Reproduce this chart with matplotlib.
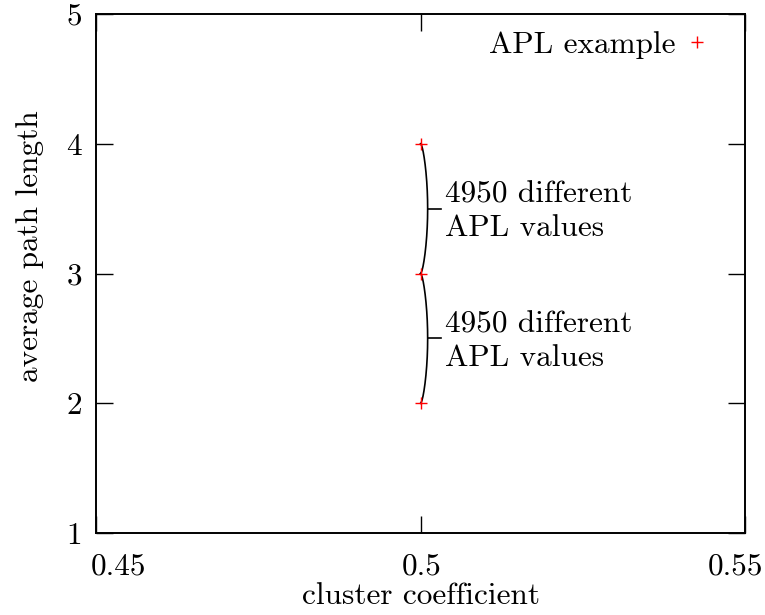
import numpy as np
import matplotlib
matplotlib.use("Agg")
import matplotlib.pyplot as plt
from matplotlib.transforms import ScaledTranslation

plt.rcParams["font.family"] = ["cmr10", "DejaVu Serif"]
plt.rcParams["axes.formatter.use_mathtext"] = True
plt.rcParams["mathtext.fontset"] = "cm"

# Data
cluster_coeff = [0.5, 0.5, 0.5]
apl = [2, 3, 4]
brace_ranges = [(3, 4), (2, 3)]
brace_text = "4950 different\nAPL values"
x_ticks = [0.45, 0.5, 0.55]
x_ticklabels = ["0.45", "0.5", "0.55"]
y_ticks = [1, 2, 3, 4, 5]

FS = 22.5

fig = plt.figure(figsize=(7.65, 6.15), dpi=100)
ax = fig.add_axes([0.1255, 0.1333, 0.8484, 0.8439])

ax.plot(cluster_coeff, apl, linestyle="none", marker="+", color="red",
        markersize=9, markeredgewidth=1.0, label="APL example", zorder=3)

# Curly braces spanning each group of values
for y0, y1 in brace_ranges:
    t = np.linspace(0, 1, 200)
    y = y1 - (y1 - y0) * t
    xoff = 0.0011 * np.sin(np.pi * t) ** 0.6
    ax.plot(0.5 + xoff, y, color="black", lw=1.2, zorder=2)
    ym = (y0 + y1) / 2
    ax.plot([0.5 + 0.0011, 0.5 + 0.0031], [ym, ym], color="black", lw=1.2)
    ax.text(0.5 + 0.0038, ym - 0.02, brace_text, fontsize=FS, ha="left",
            va="center", linespacing=1.25)

ax.set_xlim(0.45, 0.55)
ax.set_ylim(1, 5)
ax.set_xticks(x_ticks)
ax.set_xticklabels(x_ticklabels)
ax.set_yticks(y_ticks)
ax.set_yticklabels([str(v) for v in y_ticks])
ax.tick_params(direction="in", length=12, width=1.0, top=True, right=True,
               labelsize=FS)
ax.tick_params(axis="x", pad=14)
ax.tick_params(axis="y", pad=10)
for s in ax.spines.values():
    s.set_linewidth(1.4)

# Pull the outermost x tick labels inside the frame
px = 72.0 / fig.dpi / 72.0
for tick, dx in zip(ax.xaxis.get_major_ticks(), [22.5, 1.0, -9.5]):
    lab = tick.label1
    lab.set_transform(lab.get_transform() + ScaledTranslation(dx * px, 0, fig.dpi_scale_trans))

ax.set_xlabel("cluster coefficient", fontsize=FS, labelpad=1)
ax.set_ylabel("average path length", fontsize=FS)
ax.yaxis.label.set_va("center")
ax.yaxis.set_label_coords((30 - 96) / 649, (533 - 246) / 519)

ax.legend(loc="upper right", bbox_to_anchor=(0.960, 0.992), borderaxespad=0,
          frameon=False, markerfirst=False, fontsize=FS,
          handlelength=0.6, handletextpad=0.4)

fig.savefig("out.png", dpi=100)
